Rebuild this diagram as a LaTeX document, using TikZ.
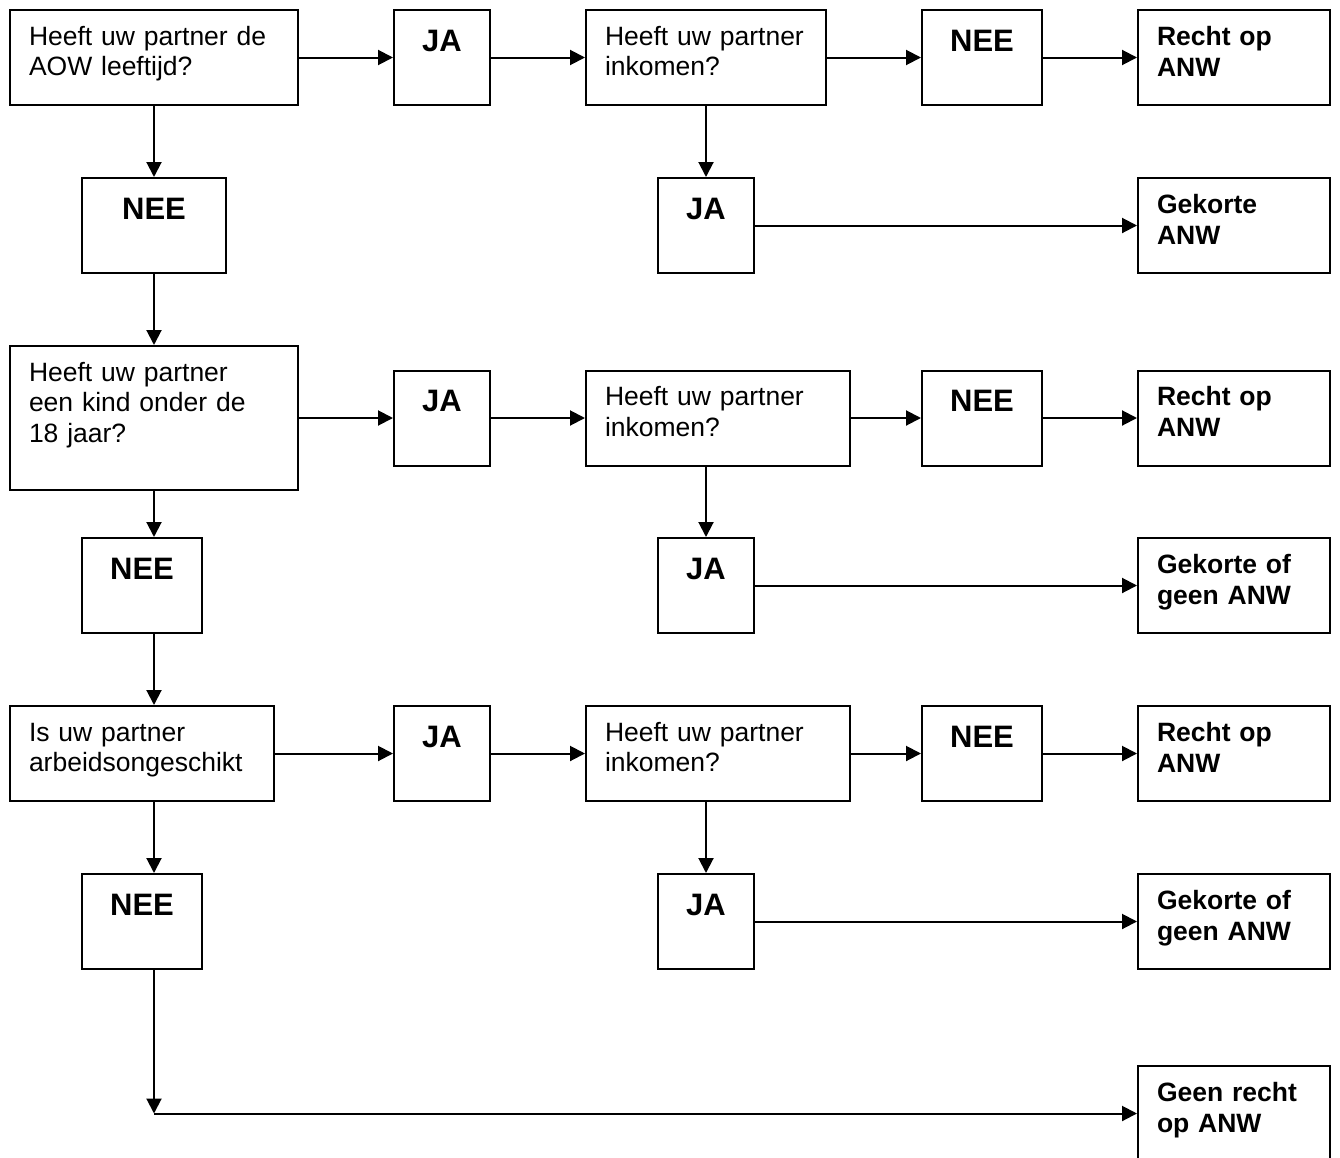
\documentclass[tikz,border=0pt]{standalone}
\usepackage{fontspec}
\setmainfont{Liberation Sans}
\usepackage{tikz}
\usetikzlibrary{arrows.meta,shapes}

\tikzset{
  vraag/.style={draw,line width=2bp,inner xsep=19bp,inner ysep=0bp,align=left,
    font=\fontsize{26.5bp}{30.5bp}\selectfont,text height=35bp,text depth=60bp},
  uitkomst/.style={vraag,font=\bfseries\fontsize{26.5bp}{31bp}\selectfont,text width=154bp},
  antwoord/.style={draw,line width=2bp,inner sep=0bp,
    font=\bfseries\fontsize{31bp}{36bp}\selectfont,text height=41bp,text depth=54bp},
  pijl/.style={-{Triangle[length=15bp,width=15bp]},line width=2bp}
}

\begin{document}
\begin{tikzpicture}

\useasboundingbox (0bp,0bp) rectangle (1340bp,-1158bp);

% eerste rij
\node (V1) at (154bp,-57.5bp)[vraag,text width=250bp] {Heeft uw partner de\\AOW leeftijd?};
\node (JA1) at (442bp,-57.5bp)[antwoord,minimum width=96bp] {JA};
\node (INK1) at (706bp,-57.5bp)[vraag,text width=202bp] {Heeft uw partner\\inkomen?};
\node (NEEr1) at (982bp,-57.5bp)[antwoord,minimum width=120bp] {NEE};
\node (RO1) at (1234bp,-57.5bp)[uitkomst] {Recht op\\ANW};
\node (NEE1) at (154bp,-225.5bp)[antwoord,minimum width=144bp] {NEE};
\node (JAo1) at (706bp,-225.5bp)[antwoord,minimum width=96bp] {JA};
\node (GK1) at (1234bp,-225.5bp)[uitkomst] {Gekorte\\ANW};

% tweede rij
\node (V2) at (154bp,-418bp)[vraag,text width=250bp,text depth=109bp] {Heeft uw partner\\een kind onder de\\18 jaar?};
\node (JA2) at (442bp,-418bp)[antwoord,minimum width=96bp] {JA};
\node (INK2) at (718bp,-418bp)[vraag,text width=226bp] {Heeft uw partner\\inkomen?};
\node (NEEr2) at (982bp,-418bp)[antwoord,minimum width=120bp] {NEE};
\node (RO2) at (1234bp,-418bp)[uitkomst] {Recht op\\ANW};
\node (NEE2) at (142bp,-585.5bp)[antwoord,minimum width=120bp] {NEE};
\node (JAo2) at (706bp,-585.5bp)[antwoord,minimum width=96bp] {JA};
\node (GK2) at (1234bp,-585.5bp)[uitkomst] {Gekorte of\\geen ANW};

% derde rij
\node (V3) at (142bp,-753.5bp)[vraag,text width=226bp] {Is uw partner\\arbeidsongeschikt};
\node (JA3) at (442bp,-753.5bp)[antwoord,minimum width=96bp] {JA};
\node (INK3) at (718bp,-753.5bp)[vraag,text width=226bp] {Heeft uw partner\\inkomen?};
\node (NEEr3) at (982bp,-753.5bp)[antwoord,minimum width=120bp] {NEE};
\node (RO3) at (1234bp,-753.5bp)[uitkomst] {Recht op\\ANW};
\node (NEE3) at (142bp,-921.5bp)[antwoord,minimum width=120bp] {NEE};
\node (JAo3) at (706bp,-921.5bp)[antwoord,minimum width=96bp] {JA};
\node (GK3) at (1234bp,-921.5bp)[uitkomst] {Gekorte of\\geen ANW};

\node (GR) at (1234bp,-1113.5bp)[uitkomst] {Geen recht\\op ANW};
\coordinate (hoek) at (154bp,-1113.5bp);

\draw [pijl] (V1) -- (JA1);
\draw [pijl] (JA1) -- (INK1);
\draw [pijl] (INK1) -- (NEEr1);
\draw [pijl] (NEEr1) -- (RO1);
\draw [pijl] (V1) -- (NEE1);
\draw [pijl] (INK1) -- (JAo1);
\draw [pijl] (JAo1) -- (GK1);
\draw [pijl] (NEE1) -- (V2);

\draw [pijl] (V2) -- (JA2);
\draw [pijl] (JA2) -- (INK2);
\draw [pijl] (INK2) -- (NEEr2);
\draw [pijl] (NEEr2) -- (RO2);
\draw [pijl] (V2) -- (V2 |- NEE2.north);
\draw [pijl] (INK2.south -| JAo2) -- (JAo2);
\draw [pijl] (JAo2) -- (GK2);
\draw [pijl] (NEE2.south -| V2) -- (V3.north -| V2);

\draw [pijl] (V3) -- (JA3);
\draw [pijl] (JA3) -- (INK3);
\draw [pijl] (INK3) -- (NEEr3);
\draw [pijl] (NEEr3) -- (RO3);
\draw [pijl] (V3.south -| V2) -- (NEE3.north -| V2);
\draw [pijl] (INK3.south -| JAo3) -- (JAo3);
\draw [pijl] (JAo3) -- (GK3);
\draw [pijl] (NEE3.south -| V2) -- (hoek);
\draw [pijl] (hoek) -- (GR);
\end{tikzpicture}
\end{document}
